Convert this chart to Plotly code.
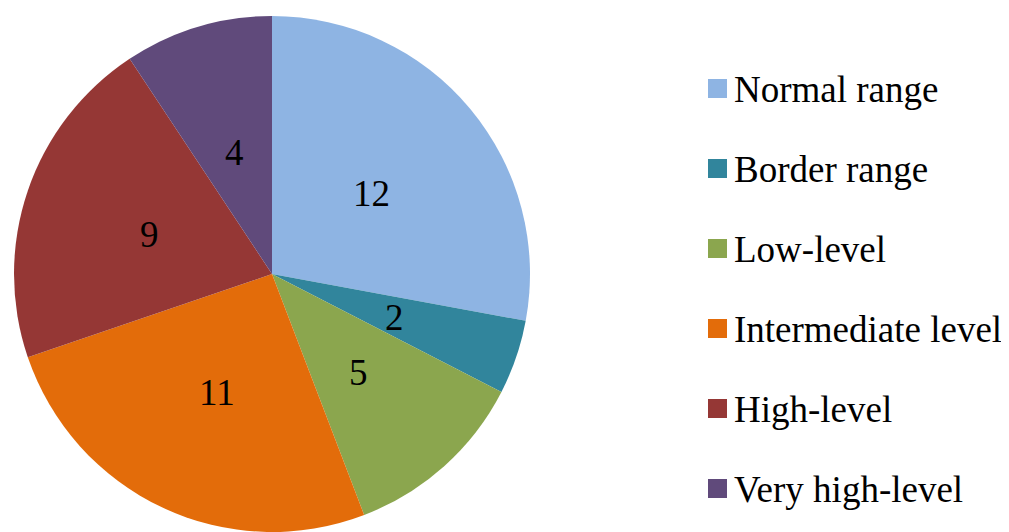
import math
import plotly.graph_objects as go

labels = ["Normal range", "Border range", "Low-level", "Intermediate level", "High-level", "Very high-level"]
values = [12, 2, 5, 11, 9, 4]
colors = ["#8EB4E3", "#31859C", "#8BA64E", "#E36C0A", "#953735", "#604A7B"]

# page body has an 8px margin, so the figure is sized to fit the 1009x532 window
W, H = 1001, 524
cx, cy, r = 264, 266, 258

fig = go.Figure()
fig.add_trace(go.Pie(
    labels=labels,
    values=values,
    sort=False,
    direction="clockwise",
    rotation=0,
    marker=dict(colors=colors, line=dict(width=0)),
    textinfo="none",
    domain=dict(x=[(cx - r) / W, (cx + r) / W], y=[0, 2 * r / H]),
    showlegend=False,
    hoverinfo="label+value",
))

# value labels at half radius on each slice's bisector (derived from the data)
total = sum(values)
cum = 0
for v in values:
    mid = (cum + v / 2) / total * 2 * math.pi
    cum += v
    px = cx + 0.5 * r * math.sin(mid)
    py = cy - 0.5 * r * math.cos(mid) + 2
    fig.add_annotation(xref="paper", yref="paper", x=px / W, y=1 - py / H,
                       xanchor="center", yanchor="middle", showarrow=False,
                       text=str(v), font=dict(family="Liberation Serif", size=37, color="black"))

# legend drawn as squares + real text
leg_y0, leg_dy = 80.5, 80
for i, (lab, col) in enumerate(zip(labels, colors)):
    yc = leg_y0 + i * leg_dy
    fig.add_shape(type="rect", xref="paper", yref="paper",
                  x0=700 / W, x1=719 / W, y0=1 - (yc - 9.5) / H, y1=1 - (yc + 9.5) / H,
                  fillcolor=col, line=dict(width=0))
    fig.add_annotation(xref="paper", yref="paper", x=724 / W, y=1 - (yc + 1) / H,
                       xanchor="left", yanchor="middle", showarrow=False,
                       text=lab, font=dict(family="Liberation Serif", size=37, color="black"))

fig.update_layout(width=W, height=H, margin=dict(l=0, r=0, t=0, b=0),
                  paper_bgcolor="white", plot_bgcolor="white")
fig.write_html("out.html")
